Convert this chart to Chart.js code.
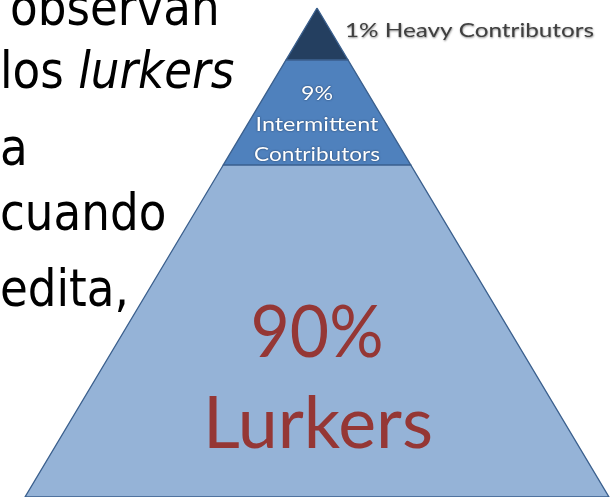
<!DOCTYPE html>
<html>
<head>
<meta charset="utf-8">
<script src="https://cdn.jsdelivr.net/npm/chart.js@4.4.1/dist/chart.umd.min.js"></script>
<style>
  html, body { margin: 0; padding: 0; background: #ffffff; }
  #wrap { width: 611px; height: 497px; position: relative; }
</style>
</head>
<body>
<div id="wrap"><canvas id="pyramidChart"></canvas></div>
<script>
// tiers of the participation pyramid, top to bottom
const tierNames = ["Heavy Contributors", "Intermittent Contributors", "Lurkers"];
const tierShares = [1, 9, 90];
// bottom edge of each tier, as a fraction of the pyramid height
const tierDepths = [0.106, 0.321, 1.0];
const tierColors = ["#243f60", "#4f81bd", "#95b3d7"];

// text on the left (cut off by the crop)
const sideLines = [
  [{ t: "observan", italic: false }],
  [{ t: "los ", italic: false }, { t: "lurkers", italic: true }],
  [{ t: "a", italic: false }],
  [{ t: "cuando", italic: false }],
  [{ t: "edita,", italic: false }]
];

// one closed polygon per tier, width grows with depth
const tierDatasets = tierNames.map((name, i) => {
  let top = i === 0 ? 0 : tierDepths[i - 1];
  let bottom = tierDepths[i];
  return {
    label: name,
    data: [
      { x: -top, y: top },
      { x: top, y: top },
      { x: bottom, y: bottom },
      { x: -bottom, y: bottom },
      { x: -top, y: top }
    ],
    showLine: true,
    fill: "shape",
    tension: 0,
    pointRadius: 0,
    borderWidth: 1.3,
    borderColor: "#3a5f8d",
    backgroundColor: tierColors[i],
    clip: false
  };
});

// draws text squeezed/stretched to a given width
const drawFit = (ctx, text, x, y, font, width, align) => {
  ctx.save();
  ctx.font = font;
  let w = ctx.measureText(text).width;
  let sx = width / w;
  let left = x;
  if (align === "center") left = x - width / 2;
  ctx.translate(left, y);
  ctx.scale(sx, 1);
  ctx.textAlign = "left";
  ctx.textBaseline = "alphabetic";
  ctx.fillText(text, 0, 0);
  ctx.restore();
};

const labelPlugin = {
  id: "pyramidLabels",
  afterDatasetsDraw(chart) {
    const ctx = chart.ctx;
    const xs = chart.scales.x;
    const cx = xs.getPixelForValue(0);

    // side text
    ctx.save();
    ctx.fillStyle = "#000000";
    const sideX = [10, 0, 0, 0, 0];
    const sideBase = [25, 88, 165, 230, 306];
    sideLines.forEach((line, i) => {
      let x = sideX[i];
      line.forEach((part) => {
        ctx.font = (part.italic ? "italic " : "") + "52px 'DejaVu Sans'";
        let w = ctx.measureText(part.t).width * 0.87;
        drawFit(ctx, part.t, x, sideBase[i], ctx.font, w, "left");
        x += w;
      });
    });
    ctx.restore();

    // top tier label, outside on the right
    ctx.save();
    ctx.shadowColor = "rgba(0,0,0,0.45)";
    ctx.shadowBlur = 2;
    ctx.shadowOffsetX = 0.5;
    ctx.shadowOffsetY = 0.5;
    ctx.fillStyle = "#404040";
    drawFit(ctx, tierShares[0] + "% " + tierNames[0], 345, 37, "20px Lato", 249, "left");
    ctx.restore();

    // middle tier label
    ctx.save();
    ctx.shadowColor = "rgba(20,40,70,0.8)";
    ctx.shadowBlur = 2;
    ctx.fillStyle = "#ffffff";
    const midWords = tierNames[1].split(" ");
    drawFit(ctx, tierShares[1] + "%", cx, 100, "19px Lato", 32, "center");
    drawFit(ctx, midWords[0], cx, 131, "19px Lato", 123, "center");
    drawFit(ctx, midWords[1], cx, 161, "19px Lato", 126, "center");
    ctx.restore();

    // bottom tier label
    ctx.save();
    ctx.fillStyle = "#953735";
    drawFit(ctx, tierShares[2] + "%", cx, 357, "72px Lato", 133, "center");
    drawFit(ctx, tierNames[2], cx + 1, 448, "72px Lato", 230, "center");
    ctx.restore();
  }
};

// pixel placement: apex at (317, 8), base half-width 292 at y = 497
const apexX = 317, apexY = 8, baseHalf = 292, height = 489;

new Chart(document.getElementById("pyramidChart"), {
  type: "scatter",
  data: { datasets: tierDatasets },
  options: {
    responsive: true,
    maintainAspectRatio: false,
    animation: false,
    layout: { padding: 0 },
    plugins: {
      legend: { display: false },
      tooltip: { enabled: false }
    },
    scales: {
      x: {
        type: "linear",
        display: false,
        min: -apexX / baseHalf,
        max: (611 - apexX) / baseHalf
      },
      y: {
        type: "linear",
        display: false,
        reverse: true,
        min: -apexY / height,
        max: 1
      }
    }
  },
  plugins: [labelPlugin]
});
</script>
</body>
</html>
